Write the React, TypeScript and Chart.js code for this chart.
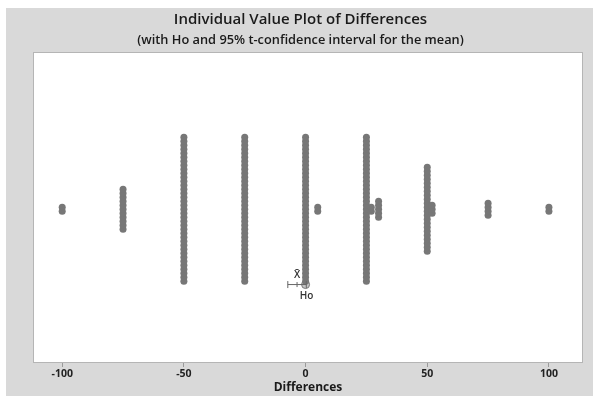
import React, { useEffect, useRef } from "react";
import { Chart, registerables } from "chart.js";

Chart.register(...registerables);

// Distinct difference values and how many observations have each value
const DIFF_VALUES = [-100, -75, -50, -25, 0, 5, 25, 27, 30, 50, 52, 75, 100];
const DIFF_COUNTS = [2, 11, 37, 37, 37, 2, 37, 2, 5, 22, 3, 4, 2];

// Hypothesized mean and 95% t-confidence interval
const H0 = 0;
const MEAN = -3.5;
const CI_LOW = -7.3;
const CI_HIGH = 0.3;

const X_TICKS = [-100, -50, 0, 50, 100];

const TITLE = "Individual Value Plot of Differences";
const SUBTITLE = "(with Ho and 95% t-confidence interval for the mean)";
const X_TITLE = "Differences";

const FONT = '"Open Sans", "Noto Sans", sans-serif';
const CI_Y = -18.8;

export default function App() {
  const ref = useRef<HTMLCanvasElement | null>(null);

  useEffect(() => {
    document.body.style.margin = "0";
    const canvas = ref.current;
    if (!canvas) return;

    // Dot-plot stacking: each observation stacked symmetrically around the centre line
    const dots: { x: number; y: number }[] = [];
    DIFF_VALUES.forEach((v, i) => {
      const n = DIFF_COUNTS[i];
      for (let k = 0; k < n; k++) dots.push({ x: v, y: k - (n - 1) / 2 });
    });

    const decor = {
      id: "decor",
      beforeDatasetsDraw(chart: any) {
        const { ctx, chartArea: a } = chart;
        ctx.save();
        ctx.fillStyle = "#ffffff";
        ctx.fillRect(a.left, a.top, a.right - a.left, a.bottom - a.top);
        ctx.strokeStyle = "#b5b5b5";
        ctx.lineWidth = 1;
        ctx.strokeRect(a.left + 0.5, a.top + 0.5, a.right - a.left - 1, a.bottom - a.top - 1);
        ctx.restore();
      },
      afterDraw(chart: any) {
        const { ctx } = chart;
        const xs = chart.scales.x;
        const ys = chart.scales.y;
        const w = chart.width;
        ctx.save();
        ctx.fillStyle = "#1a1a1a";
        ctx.textAlign = "center";
        ctx.textBaseline = "middle";
        ctx.font = `600 15px ${FONT}`;
        ctx.fillText(TITLE, w / 2 + 1, 12);
        ctx.font = `600 12.8px ${FONT}`;
        ctx.fillText(SUBTITLE, w / 2 + 1, 32);
        // CI labels
        const yCi = ys.getPixelForValue(CI_Y);
        ctx.fillStyle = "#333333";
        ctx.font = `600 10px ${FONT}`;
        ctx.fillText("X\u0304", xs.getPixelForValue(MEAN), yCi - 9);
        ctx.fillText("Ho", xs.getPixelForValue(H0) + 1, yCi + 12);
        ctx.restore();
      },
    };

    const chart = new Chart(canvas, {
      type: "scatter",
      data: {
        datasets: [
          {
            label: "CI",
            type: "line",
            data: [
              { x: CI_LOW, y: CI_Y },
              { x: MEAN, y: CI_Y },
              { x: CI_HIGH, y: CI_Y },
            ],
            borderColor: "#666666",
            borderWidth: 1,
            pointStyle: "line",
            rotation: 90,
            pointRadius: [3.5, 2.5, 3.5],
            pointBorderColor: "#666666",
            pointBorderWidth: 1,
            fill: false,
          } as any,
          {
            label: "Differences",
            data: dots,
            backgroundColor: "#777777",
            borderWidth: 0,
            pointRadius: 3.5,
          },
          {
            label: "Ho",
            data: [{ x: H0, y: CI_Y }],
            backgroundColor: "rgba(150,150,150,0.55)",
            borderColor: "#7a7a7a",
            borderWidth: 1,
            pointRadius: 4,
          },
        ],
      },
      options: {
        animation: false,
        responsive: false,
        maintainAspectRatio: false,
        layout: { padding: { left: 27, right: 10, top: 44, bottom: 0 } },
        plugins: {
          legend: { display: false },
          tooltip: { enabled: false },
          title: { display: false },
        },
        scales: {
          x: {
            type: "linear",
            min: -112,
            max: 114,
            afterBuildTicks(scale: any) {
              scale.ticks = X_TICKS.map((v) => ({ value: v }));
            },
            afterFit(scale: any) {
              scale.height = 33;
            },
            border: { display: false },
            grid: {
              drawOnChartArea: false,
              drawTicks: true,
              tickLength: 4,
              color: "#9a9a9a",
            },
            ticks: {
              includeBounds: false,
              padding: 1,
              color: "#222222",
              font: { family: FONT, size: 10.5, weight: "bold" },
            },
            title: {
              display: true,
              text: X_TITLE,
              color: "#1a1a1a",
              padding: { top: 0, bottom: 1 },
              font: { family: FONT, size: 12, weight: "bold" },
            },
          },
          y: {
            type: "linear",
            display: false,
            min: -38.4,
            max: 39.3,
          },
        },
      } as any,
      plugins: [decor],
    });

    return () => chart.destroy();
  }, []);

  return (
    <div style={{ position: "relative", width: 600, height: 404, background: "#ffffff" }}>
      <canvas
        ref={ref}
        width={587}
        height={388}
        style={{
          position: "absolute",
          left: 6,
          top: 8,
          width: 587,
          height: 388,
          background: "#d9d9d9",
        }}
      />
    </div>
  );
}
